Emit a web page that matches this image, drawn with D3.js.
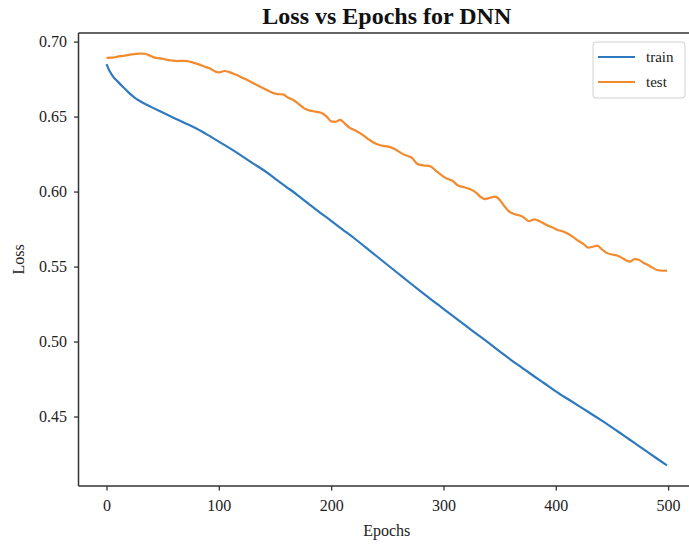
<!DOCTYPE html>
<html>
<head>
<meta charset="utf-8">
<script src="https://cdn.jsdelivr.net/npm/d3@7"></script>
<style>
  html, body { margin: 0; padding: 0; background: #fff; }
  svg { display: block; font-family: "Liberation Serif", "Times New Roman", serif; }
</style>
</head>
<body>
<svg id="chart" width="689" height="545"></svg>
<script>
// ---- data ----
const trainEpochs = [0,3,6,10,15,20,25,30,40,50,60,70,80,90,100,110,120,130,140,150,160,170,180,190,200,210,220,230,240,250,260,270,280,290,300,310,320,330,340,350,360,370,380,390,400,410,420,430,440,450,460,470,480,490,499];
const trainLoss = [0.685,0.680,0.6765,0.6733,0.6695,0.6658,0.6627,0.6602,0.6563,0.6527,0.6491,0.6456,0.642,0.6378,0.6333,0.6288,0.624,0.619,0.6142,0.6087,0.6032,0.5977,0.5918,0.586,0.5805,0.5748,0.5692,0.5632,0.5572,0.5512,0.5452,0.5392,0.5333,0.5275,0.5218,0.5161,0.5104,0.5048,0.4992,0.4935,0.4878,0.4825,0.4772,0.472,0.4668,0.462,0.4573,0.4525,0.4478,0.4428,0.4376,0.4324,0.4272,0.422,0.4174];

const testEpochs = [0,5,10,15,20,25,30,34,38,43,48,53,58,63,68,72,77,82,87,92,97,100,105,110,115,120,125,130,136,142,148,152,157,162,166,171,176,181,186,191,196,200,204,208,212,216,222,228,234,239,243,248,252,257,262,267,272,277,282,288,293,300,304,308,313,318,324,329,333,337,341,346,350,354,358,363,368,372,376,381,386,392,397,401,406,410,415,420,425,429,433,437,441,445,450,454,459,463,466,470,474,478,482,486,490,495,499];
const testLoss = [0.6892,0.6893,0.6900,0.6905,0.6912,0.6917,0.6920,0.6919,0.6908,0.6893,0.6888,0.6880,0.6874,0.6870,0.6872,0.6870,0.6860,0.6848,0.6834,0.6820,0.6800,0.6795,0.6804,0.6795,0.6780,0.6763,0.6745,0.6725,0.6702,0.6680,0.6658,0.6650,0.6648,0.6625,0.6612,0.6585,0.6555,0.6540,0.6533,0.6525,0.6500,0.6468,0.6465,0.6478,0.6455,0.6428,0.6405,0.6378,0.6345,0.6322,0.6310,0.6303,0.6298,0.6282,0.6258,0.6240,0.6225,0.6183,0.6175,0.6170,0.6140,0.6100,0.6083,0.6072,0.6040,0.6030,0.6015,0.5993,0.5965,0.5950,0.5958,0.5966,0.5945,0.5905,0.5870,0.5850,0.5840,0.5825,0.5802,0.5815,0.5800,0.5777,0.5760,0.5746,0.5735,0.5722,0.5700,0.5672,0.5648,0.5626,0.5632,0.5640,0.5615,0.5593,0.5580,0.5575,0.5558,0.5540,0.5533,0.5550,0.5545,0.5525,0.5510,0.5493,0.5477,0.5472,0.5473];

const seriesNames = ["train", "test"];
const xTicks = [0, 100, 200, 300, 400, 500];
const yTicks = [0.45, 0.50, 0.55, 0.60, 0.65, 0.70];
const titleText = "Loss vs Epochs for DNN";
const xLabel = "Epochs";
const yLabel = "Loss";

(function () {
  const colors = { train: "#2f7abf", test: "#f28a2e" };
  const pL = 78.5, pT = 33, pR = 695, pB = 486;

  const svg = d3.select("#chart");

  const allX = [...trainEpochs, ...testEpochs];
  const xMin = d3.min(allX), xMax = d3.max(allX);
  const xPad = (xMax - xMin) * 0.05;
  const allY = [...trainLoss, ...testLoss];
  const yMin = d3.min(allY), yMax = d3.max(allY);
  const yPad = (yMax - yMin) * 0.05;

  const x = d3.scaleLinear().domain([xMin - xPad, xMax + xPad]).range([pL, pR]);
  const y = d3.scaleLinear().domain([yMin - yPad, yMax + yPad]).range([pB, pT]);

  const line = d3.line().x(d => x(d[0])).y(d => y(d[1])).curve(d3.curveMonotoneX);

  const g = svg.append("g");

  const trainData = trainEpochs.map((e, i) => [e, trainLoss[i]]);
  const testData = testEpochs.map((e, i) => [e, testLoss[i]]);
  g.append("path").datum(trainData).attr("d", line)
    .attr("fill", "none").attr("stroke", colors.train).attr("stroke-width", 2.2).attr("stroke-linejoin", "round");
  g.append("path").datum(testData).attr("d", line)
    .attr("fill", "none").attr("stroke", colors.test).attr("stroke-width", 2.2).attr("stroke-linejoin", "round");

  const spineColor = "#333";
  const spines = [[pL, pT, pL, pB], [pL, pB, pR, pB], [pL, pT, pR, pT], [pR, pT, pR, pB]];
  spines.forEach(s => g.append("line").attr("x1", s[0]).attr("y1", s[1]).attr("x2", s[2]).attr("y2", s[3])
    .attr("stroke", spineColor).attr("stroke-width", 1.5));

  const xAxis = d3.axisBottom(x).tickValues(xTicks).tickFormat(d3.format("d")).tickSize(4.5).tickPadding(9);
  const yAxis = d3.axisLeft(y).tickValues(yTicks).tickFormat(d3.format(".2f")).tickSize(4.5).tickPadding(7);

  const gx = svg.append("g").attr("transform", `translate(0,${pB})`).call(xAxis);
  const gy = svg.append("g").attr("transform", `translate(${pL},0)`).call(yAxis);
  [gx, gy].forEach(a => {
    a.select(".domain").remove();
    a.selectAll(".tick line").attr("stroke", spineColor).attr("stroke-width", 1.3);
    a.selectAll(".tick text").attr("fill", "#222").style("font-size", "16px").style("font-family", "'Liberation Serif', serif");
  });

  svg.append("text").attr("x", (pL + pR) / 2).attr("y", 24).attr("text-anchor", "middle")
    .style("font-size", "24px").style("font-weight", "bold").attr("fill", "#111").text(titleText);
  svg.append("text").attr("x", (pL + pR) / 2).attr("y", 536).attr("text-anchor", "middle")
    .style("font-size", "16px").attr("fill", "#222").text(xLabel);
  svg.append("text").attr("transform", `translate(24,${(pT + pB) / 2}) rotate(-90)`).attr("text-anchor", "middle")
    .style("font-size", "16px").attr("fill", "#222").text(yLabel);

  const lg = svg.append("g").attr("transform", "translate(593,42)");
  lg.append("rect").attr("width", 92).attr("height", 56).attr("rx", 3).attr("ry", 3)
    .attr("fill", "#fff").attr("fill-opacity", 0.85).attr("stroke", "#d0d0d0").attr("stroke-width", 1);
  seriesNames.forEach((name, i) => {
    const yy = 15 + i * 25;
    lg.append("line").attr("x1", 5).attr("x2", 42).attr("y1", yy).attr("y2", yy)
      .attr("stroke", colors[name]).attr("stroke-width", 2.2);
    lg.append("text").attr("x", 53).attr("y", yy + 5).style("font-size", "15px").attr("fill", "#222").text(name);
  });
})();
</script>
</body>
</html>
